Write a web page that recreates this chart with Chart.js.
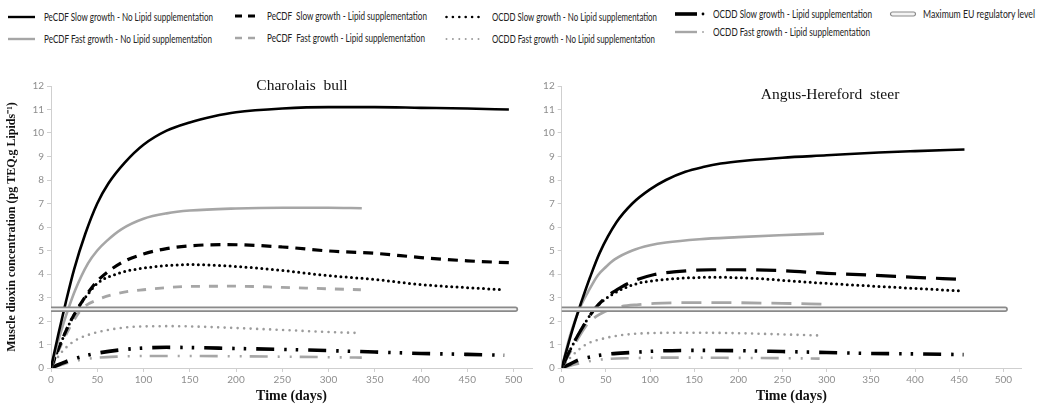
<!DOCTYPE html>
<html><head><meta charset="utf-8">
<script src="https://cdn.jsdelivr.net/npm/chart.js@4.4.1/dist/chart.umd.min.js"></script>
<style>
html,body{margin:0;padding:0;background:#fff;}
#wrap{position:relative;width:1047px;height:405px;overflow:hidden;background:#fff;}
canvas{position:absolute;}
.lg{position:absolute;font-family:Lato,'Open Sans',sans-serif;font-size:10.5px;color:#222;white-space:pre;transform-origin:0 50%;line-height:12px;}
.sw{position:absolute;overflow:visible;}
.ttl{position:absolute;font-family:'Liberation Serif','Times New Roman',serif;font-size:15.5px;color:#111;white-space:pre;transform:translate(-50%,-50%);}
</style></head><body>
<div id="wrap">
 <div id="legend"></div>
 <canvas id="c1" width="545" height="335" style="left:0;top:70px"></canvas>
 <canvas id="c2" width="507" height="335" style="left:540px;top:70px"></canvas>
 <div class="ttl" style="left:302px;top:85px">Charolais  bull</div>
 <div class="ttl" style="left:830px;top:94px">Angus-Hereford  steer</div>
</div>
<script>
// ---------- tick labels ----------
const xTickValues = [0,50,100,150,200,250,300,350,400,450,500];
const yTickValues = [0,1,2,3,4,5,6,7,8,9,10,11,12];

// ---------- series labels ----------
const seriesLabels = [
  'PeCDF Slow growth - No Lipid supplementation',
  'PeCDF Fast growth - No Lipid supplementation',
  'PeCDF  Slow growth - Lipid supplementation',
  'PeCDF  Fast growth - Lipid supplementation',
  'OCDD Slow growth - No Lipid supplementation',
  'OCDD Fast growth - No Lipid supplementation',
  'OCDD Slow growth - Lipid supplementation',
  'OCDD Fast growth - Lipid supplementation',
  'Maximum EU regulatory level'
];

// ---------- Charolais bull ----------
const chPeSlowNoDays  = [0,8,16,25,37,50,62,80,100,125,150,175,200,250,300,350,400,450,495];
const chPeSlowNoVals  = [0,1.45,2.8,4.2,5.7,7.0,7.85,8.75,9.5,10.1,10.45,10.7,10.88,11.04,11.1,11.1,11.07,11.04,11.0];
const chPeFastNoDays  = [0,10,19,26,40,50,60,76,100,125,150,200,250,300,336];
const chPeFastNoVals  = [0,1.45,2.55,3.3,4.45,5.0,5.4,5.9,6.35,6.58,6.7,6.79,6.82,6.82,6.8];
const chPeSlowLipDays = [0,10,20,30,40,50,75,100,125,150,190,250,300,350,400,450,495];
const chPeSlowLipVals = [0,1.0,1.9,2.6,3.2,3.7,4.45,4.85,5.08,5.2,5.25,5.15,4.98,4.88,4.7,4.56,4.48];
const chPeFastLipDays = [0,10,20,33,50,75,100,150,200,250,300,335];
const chPeFastLipVals = [0,0.9,1.7,2.5,2.9,3.2,3.33,3.47,3.48,3.43,3.37,3.33];
const chOcSlowNoDays  = [0,10,20,30,40,50,75,100,150,200,250,300,350,400,450,490];
const chOcSlowNoVals  = [0,1.0,1.9,2.6,3.15,3.6,4.05,4.25,4.4,4.32,4.15,3.93,3.77,3.55,3.42,3.33];
const chOcFastNoDays  = [0,10,20,30,50,75,100,130,150,200,250,300,333];
const chOcFastNoVals  = [0,0.6,1.0,1.25,1.52,1.7,1.77,1.78,1.77,1.7,1.62,1.53,1.49];
const chOcSlowLipDays = [0,10,20,30,50,75,100,125,150,200,250,300,350,400,450,490];
const chOcSlowLipVals = [0,0.17,0.33,0.45,0.63,0.77,0.85,0.88,0.87,0.83,0.79,0.74,0.68,0.62,0.58,0.54];
const chOcFastLipDays = [0,10,20,30,50,75,100,150,200,250,300,336];
const chOcFastLipVals = [0,0.12,0.24,0.33,0.44,0.49,0.51,0.51,0.5,0.48,0.46,0.44];

// ---------- Angus-Hereford steer ----------
const ahPeSlowNoDays  = [0,10,19.5,24,32,43,62,80,100,118,140,160,180,210,250,300,359,400,456];
const ahPeSlowNoVals  = [0,1.35,2.5,3.0,3.85,4.9,6.2,7.0,7.6,8.0,8.35,8.55,8.7,8.83,8.95,9.05,9.17,9.23,9.3];
const ahPeFastNoDays  = [0,10,20,30,41,50,60,80,100,118,156,200,246,297];
const ahPeFastNoVals  = [0,1.45,2.5,3.25,3.95,4.3,4.62,5.0,5.22,5.34,5.48,5.57,5.65,5.72];
const ahPeSlowLipDays = [0,10,20,37,50,68,80,105,130,170,200,250,300,350,400,447];
const ahPeSlowLipVals = [0,0.8,1.5,2.5,3.0,3.45,3.68,3.98,4.1,4.18,4.18,4.14,4.03,3.95,3.86,3.78];
const ahPeFastLipDays = [0,10,20,30,49,68,87,105,150,184,250,295];
const ahPeFastLipVals = [0,0.7,1.35,1.9,2.4,2.62,2.7,2.75,2.78,2.78,2.75,2.72];
const ahOcSlowNoDays  = [0,10,20,37,50,68,86,105,140,175,224,261,300,374,453];
const ahOcSlowNoVals  = [0,0.8,1.5,2.5,2.95,3.35,3.6,3.72,3.83,3.86,3.8,3.7,3.6,3.44,3.28];
const ahOcFastNoDays  = [0,10,20,30,49,68,105,150,200,250,295];
const ahOcFastNoVals  = [0,0.45,0.8,1.05,1.27,1.4,1.49,1.5,1.48,1.43,1.38];
const ahOcSlowLipDays = [0,10,19,30,50,79,113,150,195,250,300,350,400,455];
const ahOcSlowLipVals = [0,0.18,0.34,0.45,0.58,0.66,0.73,0.75,0.74,0.7,0.66,0.62,0.6,0.57];
const ahOcFastLipDays = [0,10,20,30,50,79,113,150,200,250,292];
const ahOcFastLipVals = [0,0.1,0.2,0.28,0.38,0.42,0.44,0.44,0.43,0.42,0.4];

// ---------- regulatory level ----------
const euLevelDays = [0,502];
const euLevelVals = [2.5,2.5];

// ---------- styles ----------
const BLACK = '#000000', GREY = '#a6a6a6', GREY_DOT = '#9c9c9c';
const styles = {
  solidBlack: {color:BLACK, width:2.6, dash:[], cap:'butt'},
  solidGrey:  {color:GREY,  width:2.6, dash:[], cap:'butt'},
  dashBlackS: {color:BLACK, width:3.2, dash:[10,7], cap:'butt'},
  dashGreyS:  {color:GREY,  width:2.8, dash:[9,9], cap:'butt'},
  dashBlackL: {color:BLACK, width:3.2, dash:[20,10], cap:'butt'},
  dashGreyL:  {color:GREY,  width:2.8, dash:[20,10], cap:'butt'},
  dotBlack:   {color:BLACK, width:3.0, dash:[0,5.3], cap:'round'},
  dotGrey:    {color:GREY_DOT, width:2.6, dash:[0,6.5], cap:'round'},
  ddBlack:    {color:BLACK, width:3.6, dash:[18,10,2.5,9,2.5,10], cap:'butt'},
  ddGrey:     {color:GREY,  width:2.6, dash:[18,10,2,10,2,8], cap:'butt'},
  euOuter:    {color:'#8a8a8a', width:5.5, dash:[], cap:'round', order:-1},
  euInner:    {color:'#f2f2f2', width:2.2, dash:[], cap:'round', order:-2}
};

function pts(xs, ys){ return xs.map((x,i)=>({x:x, y:ys[i]})); }

const charolaisSets = [
  {label:seriesLabels[0], x:chPeSlowNoDays,  y:chPeSlowNoVals,  st:styles.solidBlack},
  {label:seriesLabels[1], x:chPeFastNoDays,  y:chPeFastNoVals,  st:styles.solidGrey},
  {label:seriesLabels[2], x:chPeSlowLipDays, y:chPeSlowLipVals, st:styles.dashBlackS},
  {label:seriesLabels[3], x:chPeFastLipDays, y:chPeFastLipVals, st:styles.dashGreyS},
  {label:seriesLabels[4], x:chOcSlowNoDays,  y:chOcSlowNoVals,  st:styles.dotBlack},
  {label:seriesLabels[5], x:chOcFastNoDays,  y:chOcFastNoVals,  st:styles.dotGrey},
  {label:seriesLabels[6], x:chOcSlowLipDays, y:chOcSlowLipVals, st:styles.ddBlack},
  {label:seriesLabels[7], x:chOcFastLipDays, y:chOcFastLipVals, st:styles.ddGrey},
  {label:seriesLabels[8], x:euLevelDays, y:euLevelVals, st:styles.euOuter},
  {label:seriesLabels[8]+' ', x:euLevelDays, y:euLevelVals, st:styles.euInner}
];
const angusSets = [
  {label:seriesLabels[0], x:ahPeSlowNoDays,  y:ahPeSlowNoVals,  st:styles.solidBlack},
  {label:seriesLabels[1], x:ahPeFastNoDays,  y:ahPeFastNoVals,  st:styles.solidGrey},
  {label:seriesLabels[2], x:ahPeSlowLipDays, y:ahPeSlowLipVals, st:styles.dashBlackL},
  {label:seriesLabels[3], x:ahPeFastLipDays, y:ahPeFastLipVals, st:styles.dashGreyL},
  {label:seriesLabels[4], x:ahOcSlowNoDays,  y:ahOcSlowNoVals,  st:styles.dotBlack},
  {label:seriesLabels[5], x:ahOcFastNoDays,  y:ahOcFastNoVals,  st:styles.dotGrey},
  {label:seriesLabels[6], x:ahOcSlowLipDays, y:ahOcSlowLipVals, st:styles.ddBlack},
  {label:seriesLabels[7], x:ahOcFastLipDays, y:ahOcFastLipVals, st:styles.ddGrey},
  {label:seriesLabels[8], x:euLevelDays, y:euLevelVals, st:styles.euOuter},
  {label:seriesLabels[8]+' ', x:euLevelDays, y:euLevelVals, st:styles.euInner}
];

const tickFont = {family:"Lato, 'Open Sans', sans-serif", size:10};
const tickColor = '#8e8e8e';
const axisColor = '#cfcfcf';

function makeChart(id, sets, yWidth, padRight, yTitle){
  return new Chart(document.getElementById(id), {
    type:'line',
    data:{datasets: sets.map(s=>({
      label:s.label, data:pts(s.x, s.y),
      borderColor:s.st.color, borderWidth:s.st.width, borderDash:s.st.dash,
      borderCapStyle:s.st.cap, borderJoinStyle:'round',
      pointRadius:0, fill:false, cubicInterpolationMode:'monotone',
      order:s.st.order||0
    }))},
    options:{
      responsive:false, animation:false, events:[],
      layout:{padding:{top:16, right:padRight, left:0, bottom:0}},
      plugins:{legend:{display:false}, tooltip:{enabled:false}, title:{display:false}},
      scales:{
        x:{type:'linear', min:0, max:520,
          afterBuildTicks:s=>{ s.ticks = xTickValues.map(v=>({value:v})); },
          afterFit:s=>{ s.height = 37; },
          grid:{drawOnChartArea:false, drawTicks:true, tickLength:4, color:axisColor},
          border:{color:axisColor, width:1},
          ticks:{color:tickColor, font:tickFont, padding:2, maxRotation:0, autoSkip:false},
          title:{display:true, text:'Time (days)', color:'#111',
                 font:{family:"'Liberation Serif','Times New Roman',serif", size:14, weight:'bold'},
                 padding:{top:0,bottom:0}}
        },
        y:{type:'linear', min:0, max:12,
          afterBuildTicks:s=>{ s.ticks = yTickValues.map(v=>({value:v})); },
          afterFit:s=>{ s.width = yWidth; },
          grid:{drawOnChartArea:false, drawTicks:true, tickLength:4, color:axisColor},
          border:{color:axisColor, width:1},
          ticks:{color:tickColor, font:tickFont, padding:3, autoSkip:false},
          title:{display:!!yTitle, text:yTitle||'', color:'#111',
                 font:{family:"'Liberation Serif','Times New Roman',serif", size:12, weight:'bold'},
                 padding:{top:5,bottom:0}}
        }
      }
    }
  });
}

makeChart('c1', charolaisSets, 51, 13, 'Muscle dioxin concentration (pg TEQ.g Lipids\u207B\u00B9)');
makeChart('c2', angusSets, 21.7, 26, null);

// ---------- HTML legend ----------
const legendLayout = [
  {i:0, tx:44,  ty:17, tw:169, sx:8,   sw:27, kind:'solid',  st:'black'},
  {i:1, tx:44,  ty:39, tw:168, sx:8,   sw:27, kind:'solid',  st:'grey'},
  {i:2, tx:267, ty:15.5, tw:160, sx:235, sw:20, kind:'dash', st:'black'},
  {i:3, tx:267, ty:37.5, tw:158, sx:235, sw:20, kind:'dash', st:'grey'},
  {i:4, tx:492, ty:16.5, tw:165, sx:445, sw:35, kind:'dot',  st:'black'},
  {i:5, tx:492, ty:39, tw:163, sx:445, sw:35, kind:'dot',    st:'grey'},
  {i:6, tx:713, ty:14, tw:159, sx:675, sw:30, kind:'dd',     st:'black'},
  {i:7, tx:713, ty:32, tw:157, sx:675, sw:30, kind:'dd',     st:'grey'},
  {i:8, tx:923, ty:14, tw:112, sx:890, sw:25, kind:'double', st:'grey'}
];
const lg = document.getElementById('legend');
const NS = 'http://www.w3.org/2000/svg';
legendLayout.forEach(it=>{
  const svg = document.createElementNS(NS,'svg');
  svg.setAttribute('class','sw');
  svg.setAttribute('width', it.sw+2); svg.setAttribute('height', 10);
  svg.style.left = it.sx+'px'; svg.style.top = (it.ty-5)+'px';
  const col = it.st==='black' ? '#000' : '#a6a6a6';
  const mk = (tag, attrs)=>{ const e=document.createElementNS(NS,tag); for(const k in attrs) e.setAttribute(k,attrs[k]); svg.appendChild(e); return e; };
  if(it.kind==='solid'){
    mk('line',{x1:0,y1:5,x2:it.sw,y2:5,stroke:col,'stroke-width':2.4});
  } else if(it.kind==='dash'){
    mk('line',{x1:0,y1:5,x2:it.sw,y2:5,stroke:col,'stroke-width':it.st==='black'?3:2.4,'stroke-dasharray':'7 6'});
  } else if(it.kind==='dot'){
    mk('line',{x1:1.5,y1:5,x2:it.sw,y2:5,stroke:it.st==='black'?'#000':'#9c9c9c','stroke-width':it.st==='black'?2.6:2,'stroke-linecap':'round','stroke-dasharray':'0 6.4'});
  } else if(it.kind==='dd'){
    mk('line',{x1:0,y1:5,x2:22,y2:5,stroke:col,'stroke-width':it.st==='black'?3.6:2.4});
    mk('circle',{cx:28,cy:5,r:it.st==='black'?1.4:1.0,fill:col});
  } else if(it.kind==='double'){
    mk('rect',{x:0.5,y:3,width:it.sw,height:4,rx:2,ry:2,fill:'#f4f4f4',stroke:'#8a8a8a','stroke-width':1.2});
  }
  lg.appendChild(svg);
  const sp = document.createElement('div');
  sp.className='lg'; sp.textContent = seriesLabels[it.i];
  sp.style.left = it.tx+'px'; sp.style.top = (it.ty-6)+'px';
  lg.appendChild(sp);
  const w = sp.getBoundingClientRect().width;
  if(w>0) sp.style.transform = 'scaleX('+(it.tw/w).toFixed(4)+')';
});
</script>
</body></html>
